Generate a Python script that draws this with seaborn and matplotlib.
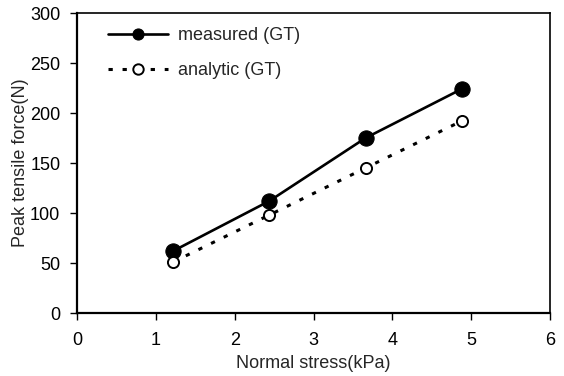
import matplotlib
matplotlib.use("Agg")
import matplotlib.pyplot as plt
import seaborn as sns
import pandas as pd

# Normal stress applied in the pull-out tests (kPa)
normal_stress = [1.22, 2.44, 3.66, 4.88]
# Peak tensile force of the geotextile (N)
measured_gt = [62, 112, 175, 224]
analytic_gt = [51, 98, 145, 192]

x_ticks = [0, 1, 2, 3, 4, 5, 6]
y_ticks = [0, 50, 100, 150, 200, 250, 300]

sns.set_style("ticks")
plt.rcParams["font.family"] = ["Liberation Sans", "DejaVu Sans"]
plt.rcParams["font.size"] = 13

df = pd.DataFrame({
    "stress": normal_stress * 2,
    "force": measured_gt + analytic_gt,
    "series": ["measured (GT)"] * 4 + ["analytic (GT)"] * 4,
})

fig = plt.figure(figsize=(5.64, 3.76), dpi=100)
ax = fig.add_axes([77 / 564, 1 - 313 / 376, 473 / 564, 300 / 376])

sns.lineplot(
    data=df[df.series == "measured (GT)"], x="stress", y="force",
    ax=ax, color="black", linewidth=1.9, marker="o", markersize=11,
    markerfacecolor="black", markeredgecolor="black",
    label="measured (GT)", sort=False,
)
sns.lineplot(
    data=df[df.series == "analytic (GT)"], x="stress", y="force",
    ax=ax, color="black", linewidth=2.2, linestyle=(0, (1.4, 3.2)),
    marker="o", markersize=8, markerfacecolor="white",
    markeredgecolor="black", markeredgewidth=1.4,
    label="analytic (GT)", sort=False,
)

ax.set_xlim(0, 6)
ax.set_ylim(0, 300)
ax.set_xticks(x_ticks)
ax.set_yticks(y_ticks)
ax.set_xlabel("Normal stress(kPa)", fontsize=13, labelpad=4)
ax.set_ylabel("Peak tensile force(N)", fontsize=13, labelpad=1)
ax.tick_params(axis="both", direction="out", length=5, width=1,
               colors="black", labelsize=13)
ax.tick_params(axis="x", pad=9)
ax.tick_params(axis="y", pad=7)

for side in ("left", "bottom"):
    ax.spines[side].set_linewidth(1.6)
    ax.spines[side].set_color("black")
for side in ("top", "right"):
    ax.spines[side].set_visible(True)
    ax.spines[side].set_linewidth(1.2)
    ax.spines[side].set_color("black")

leg = ax.legend(
    loc="upper left", bbox_to_anchor=(0.047, 0.982), frameon=False,
    borderpad=0, handlelength=3.3, handletextpad=0.55, labelspacing=0.98,
    fontsize=13,
)
handles = leg.legend_handles
handles[0].set_markersize(8)
handles[1].set_markersize(7.5)

fig.savefig("out.png", dpi=100)
